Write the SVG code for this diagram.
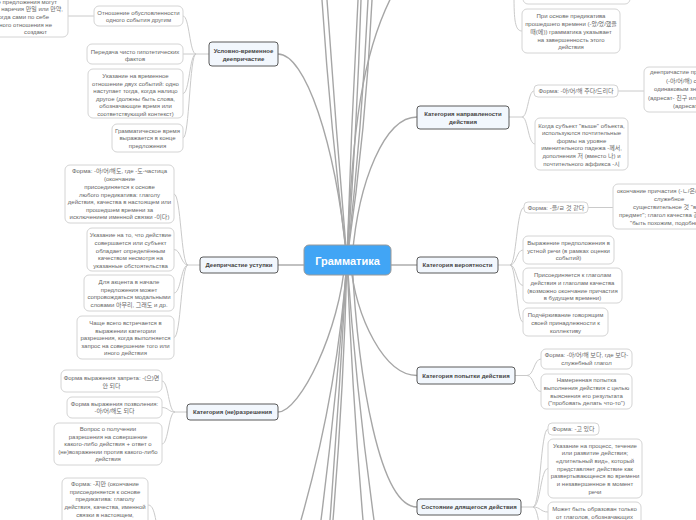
<svg xmlns="http://www.w3.org/2000/svg" width="696" height="520" viewBox="0 0 696 520">
<style>
text{font-family:"Liberation Sans","Noto Sans CJK KR",sans-serif;}
.leaf rect{fill:#fff;stroke:#d4d4d4;stroke-width:1}
.leaf text{font-size:6px;fill:#666;text-anchor:middle}
.leaf text.s{text-anchor:start}
.leaf text.e{text-anchor:end}
.branch rect{fill:#f2f7fd;stroke:#5a5a5a;stroke-width:1}
.branch text{font-size:6px;font-weight:bold;fill:#444;text-anchor:middle}
.main path{fill:none;stroke:#a6a6a6;stroke-width:1.4}
.sub path{fill:none;stroke:#cacaca;stroke-width:1}
</style>
<rect width="696" height="520" fill="#fff"/>
<g id="connectors">
<g class="main">
<path d="M278 54 C305 54,335 140,347 260"/>
<path d="M417 117 C385 117,358 180,352 260"/>
<path d="M278 265 L304 265"/>
<path d="M391 265 L417 265"/>
<path d="M278 412 C300 412,340 330,345 260"/>
<path d="M417 375.5 C385 375.5,356 320,350 260"/>
<path d="M417 507 C380 507,358 380,352 260"/>
<path d="M347 260 Q330.5 130 322 0"/>
<path d="M347 260 Q336 130 327 0"/>
<path d="M347 260 Q351 130 358 0"/>
<path d="M347 260 Q357 130 361 0"/>
<path d="M347 260 Q362 130 368 0"/>
<path d="M347 260 Q366 130 372 0"/>
<path d="M347 260 C352 130,362 50,395 -10"/>
<path d="M347 260 Q338 390 301 520"/>
<path d="M347 260 Q337.6 390 321 520"/>
<path d="M347 260 Q339.8 390 330 520"/>
<path d="M347 260 Q343.7 390 333 520"/>
<path d="M347 260 Q352 390 363 520"/>
<path d="M347 260 Q356 390 374 520"/>
</g>
<g class="sub">
<path d="M209 54 L196 54"/>
<path d="M196 54 C189.5 54,189.5 16,183 16"/>
<path d="M196 54 L183 54"/>
<path d="M196 54 C189.5 54,189.5 93.5,183 93.5"/>
<path d="M196 54 C189.5 54,189.5 138,183 138"/>
<path d="M68 16 L94 16"/>
<path d="M200 265 L188 265"/>
<path d="M188 265 C181 265,181 194,174 194"/>
<path d="M188 265 C181 265,181 249.5,174 249.5"/>
<path d="M188 265 C181 265,181 293,174 293"/>
<path d="M188 265 C181 265,181 337.5,174 337.5"/>
<path d="M187 412 L175 412"/>
<path d="M175 412 C168.5 412,168.5 381,162 381"/>
<path d="M175 412 C168.5 412,168.5 407.5,162 407.5"/>
<path d="M175 412 C168.5 412,168.5 444,162 444"/>
<path d="M509 117 L522 117"/>
<path d="M522 117 C528 117,528 91,534 91"/>
<path d="M522 117 C528 117,528 144,535 144"/>
<path d="M618 91 L644 91"/>
<path d="M498 265 L510 265"/>
<path d="M510 265 C516.5 265,516.5 207.5,524 207.5"/>
<path d="M510 265 C516.5 265,516.5 250,523 250"/>
<path d="M510 265 C516.5 265,516.5 285.5,523 285.5"/>
<path d="M510 265 C516.5 265,516.5 322,523 322"/>
<path d="M588 207.5 L613 207.5"/>
<path d="M515 375.5 L527 375.5"/>
<path d="M527 375.5 C534 375.5,534 359,541 359"/>
<path d="M527 375.5 C534 375.5,534 391.5,541 391.5"/>
<path d="M521 507 L533 507"/>
<path d="M533 507 C540.5 507,540.5 429,548 429"/>
<path d="M533 507 C540.5 507,540.5 468.5,548 468.5"/>
<path d="M533 507 C540.5 507,540.5 512,548 512"/>
<path d="M533 507 C540.5 507,540.5 560,548 560"/>
<path d="M514 -5 C514 20,515 31,522 31"/>
<path d="M160 540 C155 520,155 505,148 505"/>
</g>
</g>

<g id="center">
<rect x="304" y="245" width="87" height="30" rx="5" fill="#41a5f5" stroke="#9a9a9a" stroke-width="1"/>
<text x="347.5" y="264.5" font-family="Open Sans" font-size="11" font-weight="bold" fill="#fff" text-anchor="middle">Грамматика</text>
</g>

<g id="b-uslovno" class="branch">
<rect x="209" y="42" width="69" height="24" rx="3"/>
<text x="243.5" y="53">Условно-временное</text>
<text x="243.5" y="60.5">деепричастие</text>
</g>
<g id="b-napr" class="branch">
<rect x="417" y="106" width="92" height="23" rx="3"/>
<text x="463" y="116">Категория направлености</text>
<text x="463" y="124">действия</text>
</g>
<g id="b-ustupki" class="branch">
<rect x="200" y="257" width="78" height="16" rx="3"/>
<text x="239" y="267">Деепричастие уступки</text>
</g>
<g id="b-veroyat" class="branch">
<rect x="417" y="257" width="81" height="16" rx="3"/>
<text x="457.5" y="267">Категория вероятности</text>
</g>
<g id="b-razresh" class="branch">
<rect x="187" y="404" width="91" height="16" rx="3"/>
<text x="232.5" y="414">Категория (не)разрешения</text>
</g>
<g id="b-popytki" class="branch">
<rect x="417" y="367" width="98" height="17" rx="3"/>
<text x="466" y="377.5">Категория попытки действия</text>
</g>
<g id="b-sostoyanie" class="branch">
<rect x="417" y="499" width="104" height="16" rx="3"/>
<text x="469" y="509">Состояние длящегося действия</text>
</g>

<g id="l-topleft" class="leaf">
<rect x="-70" y="-40" width="138" height="77" rx="5"/>
<text class="e" x="57" y="3.5">Условные предложения могут</text>
<text class="e" x="63" y="11">содержать наречия 만일 или 만약,</text>
<text class="e" x="49" y="19">когда сами по себе</text>
<text class="e" x="52" y="26.5">условного отношения не</text>
<text class="e" x="47" y="34">создают</text>
</g>
<g id="l-u1" class="leaf">
<rect x="94" y="6" width="89" height="20" rx="5"/>
<text x="138.5" y="15">Отношение обусловленности</text>
<text x="138.5" y="22">одного события другим</text>
</g>
<g id="l-u2" class="leaf">
<rect x="87" y="44" width="96" height="20" rx="5"/>
<text x="135" y="54">Передача чисто гипотетических</text>
<text x="135" y="61">фактов</text>
</g>
<g id="l-u3" class="leaf">
<rect x="88" y="69" width="95" height="49" rx="5"/>
<text x="135.5" y="78">Указание на временное</text>
<text x="135.5" y="86">отношение двух событий: одно</text>
<text x="135.5" y="93">наступает тогда, когда налицо</text>
<text x="135.5" y="101">другое (должны быть слова,</text>
<text x="135.5" y="108">обозначающие время или</text>
<text x="135.5" y="116">соответствующий контекст)</text>
</g>
<g id="l-u4" class="leaf">
<rect x="112" y="124" width="71" height="28" rx="5"/>
<text x="147.5" y="133">Грамматическое время</text>
<text x="147.5" y="140">выражается в конце</text>
<text x="147.5" y="148">предложения</text>
</g>

<g id="l-s1" class="leaf">
<rect x="65" y="165" width="109" height="58" rx="5"/>
<text x="119.5" y="173">Форма: -아/어/해도, где -도-частица</text>
<text x="119.5" y="181">(окончание</text>
<text x="119.5" y="189">присоединяется к основе</text>
<text x="119.5" y="197">любого предикатива: глаголу</text>
<text x="119.5" y="204">действия, качества в настоящем или</text>
<text x="119.5" y="212">прошедшем времени за</text>
<text x="119.5" y="219">исключением именной связки -이다)</text>
</g>
<g id="l-s2" class="leaf">
<rect x="87" y="228" width="87" height="43" rx="5"/>
<text x="130.5" y="237">Указание на то, что действие</text>
<text x="130.5" y="245">совершается или субъект</text>
<text x="130.5" y="253">обладает определённым</text>
<text x="130.5" y="260">качеством несмотря на</text>
<text x="130.5" y="268">указанные обстоятельства</text>
</g>
<g id="l-s3" class="leaf">
<rect x="84" y="275" width="90" height="36" rx="5"/>
<text x="129" y="284">Для акцента в начале</text>
<text x="129" y="292">предложения может</text>
<text x="129" y="299">сопровождаться модальными</text>
<text x="129" y="307">словами 아무리, 그래도 и др.</text>
</g>
<g id="l-s4" class="leaf">
<rect x="77" y="316" width="97" height="43" rx="5"/>
<text x="125.5" y="325">Чаще всего встречается в</text>
<text x="125.5" y="333">выражении категории</text>
<text x="125.5" y="340">разрешения, когда выполняется</text>
<text x="125.5" y="348">запрос на совершение того или</text>
<text x="125.5" y="355">иного действия</text>
</g>

<g id="l-r1" class="leaf">
<rect x="61" y="370" width="101" height="22" rx="5"/>
<text x="111.5" y="380">Форма выражения запрета: -(으)면</text>
<text x="111.5" y="388">안 되다</text>
</g>
<g id="l-r2" class="leaf">
<rect x="67" y="397" width="95" height="21" rx="5"/>
<text x="114.5" y="406">Форма выражения позволения:</text>
<text x="114.5" y="413">-아/어/해도 되다</text>
</g>
<g id="l-r3" class="leaf">
<rect x="54" y="423" width="108" height="42" rx="5"/>
<text x="108" y="431">Вопрос о получении</text>
<text x="108" y="439">разрешения на совершение</text>
<text x="108" y="446">какого-либо действия + ответ о</text>
<text x="108" y="454">(не)возражении против какого-либо</text>
<text x="108" y="461">действия</text>
</g>
<g id="l-bottomleft" class="leaf">
<rect x="62" y="478" width="86" height="60" rx="5"/>
<text x="105" y="486">Форма: -지만 (окончание</text>
<text x="105" y="494">присоединяется к основе</text>
<text x="105" y="501">предикатива: глаголу</text>
<text x="105" y="509">действия, качества, именной</text>
<text x="105" y="517">связки в настоящем,</text>
</g>

<g id="l-topright" class="leaf">
<rect x="523" y="-30" width="107" height="34" rx="5"/>
</g>
<g id="l-past" class="leaf">
<rect x="522" y="9" width="98" height="44" rx="5"/>
<text x="571" y="18">При основе предикатива</text>
<text x="571" y="26">прошедшего времени (-았/었/했을</text>
<text x="571" y="34">때(에)) грамматика указывает</text>
<text x="571" y="42">на завершенность этого</text>
<text x="571" y="49">действия</text>
</g>
<g id="l-n1" class="leaf">
<rect x="534" y="85" width="84" height="12" rx="4"/>
<text x="576" y="93">Форма: -아/어/해 주다/드리다</text>
</g>
<g id="l-n1a" class="leaf">
<rect x="644" y="67" width="80" height="45" rx="5"/>
<text class="s" x="650" y="74">деепричастие предшествования</text>
<text class="s" x="666" y="83">(-아/어/해) с глаголом</text>
<text class="s" x="654" y="91">одинаковым значением</text>
<text class="s" x="648" y="100">(адресат- 친구 или 동생)</text>
<text class="s" x="673" y="108">(адресат- 부모님)</text>
</g>
<g id="l-n2" class="leaf">
<rect x="535" y="118" width="93" height="52" rx="5"/>
<text x="581.5" y="128">Когда субъект "выше" объекта,</text>
<text x="581.5" y="135">используются почтительные</text>
<text x="581.5" y="143">формы на уровне</text>
<text x="581.5" y="150">именительного падежа -께서,</text>
<text x="581.5" y="158">дополнения 저 (вместо 나) и</text>
<text x="581.5" y="166">почтительного аффикса -시</text>
</g>

<g id="l-v1" class="leaf">
<rect x="524" y="202" width="64" height="11" rx="4"/>
<text x="556" y="209.5">Форма: -을/ㄹ 것 같다</text>
</g>
<g id="l-v1a" class="leaf">
<rect x="613" y="184" width="100" height="45" rx="5"/>
<text class="s" x="617" y="193">окончание причастия (-ㄴ/은/는/을)</text>
<text class="s" x="654" y="201">служебное</text>
<text class="s" x="633" y="209">существительное 것 "вещь,</text>
<text class="s" x="619" y="217">предмет"; глагол качества 같다</text>
<text class="s" x="630" y="225">"быть похожим, подобным"</text>
</g>
<g id="l-v2" class="leaf">
<rect x="523" y="236" width="91" height="28" rx="5"/>
<text x="568.5" y="245">Выражение предположения в</text>
<text x="568.5" y="253">устной речи (в рамках оценки</text>
<text x="568.5" y="260">событий)</text>
</g>
<g id="l-v3" class="leaf">
<rect x="523" y="268" width="99" height="35" rx="5"/>
<text x="572.5" y="277">Присоединяется к глаголам</text>
<text x="572.5" y="285">действия и глаголам качества</text>
<text x="572.5" y="293">(возможно окончание причастия</text>
<text x="572.5" y="300">в будущем времени)</text>
</g>
<g id="l-v4" class="leaf">
<rect x="523" y="308" width="85" height="28" rx="5"/>
<text x="565.5" y="317">Подчёркивание говорящим</text>
<text x="565.5" y="325">своей принадлежности к</text>
<text x="565.5" y="333">коллективу</text>
</g>

<g id="l-p1" class="leaf">
<rect x="541" y="349" width="91" height="20" rx="5"/>
<text x="586.5" y="357">Форма: -아/어/해 보다, где 보다-</text>
<text x="586.5" y="365">служебный глагол</text>
</g>
<g id="l-p2" class="leaf">
<rect x="541" y="374" width="91" height="35" rx="5"/>
<text x="586.5" y="382">Намеренная попытка</text>
<text x="586.5" y="390">выполнения действия с целью</text>
<text x="586.5" y="398">выяснения его результата</text>
<text x="586.5" y="405">("пробовать делать что-то")</text>
</g>

<g id="l-d1" class="leaf">
<rect x="548" y="423" width="51" height="12" rx="4"/>
<text x="573.5" y="431">Форма: -고 있다</text>
</g>
<g id="l-d2" class="leaf">
<rect x="548" y="439" width="94" height="59" rx="5"/>
<text x="595" y="448">Указание на процесс, течение</text>
<text x="595" y="455">или развитие действия;</text>
<text x="595" y="463">«длительный вид», который</text>
<text x="595" y="471">представляет действие как</text>
<text x="595" y="478">развертывающееся во времени</text>
<text x="595" y="486">и незавершенное в момент</text>
<text x="595" y="494">речи</text>
</g>
<g id="l-d3" class="leaf">
<rect x="548" y="502" width="93" height="40" rx="5"/>
<text x="594.5" y="511">Может быть образован только</text>
<text x="594.5" y="519">от глаголов, обозначающих</text>
</g>
</svg>
